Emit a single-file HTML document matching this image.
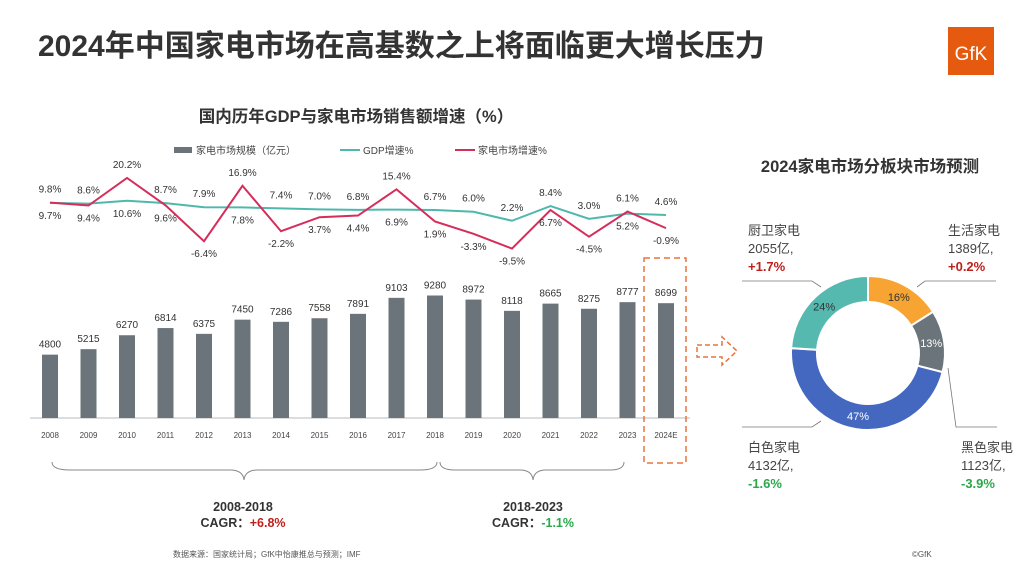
<!DOCTYPE html>
<html><head><meta charset="utf-8">
<style>
body{margin:0;width:1024px;height:576px;background:#fff;overflow:hidden;font-family:"Liberation Sans","Noto Sans CJK SC",sans-serif;}
svg{position:absolute;left:0;top:0}
</style></head>
<body>
<svg id="c" width="1024" height="576">
<text x="38" y="56" font-size="30" font-weight="bold" fill="#333">2024年中国家电市场在高基数之上将面临更大增长压力</text>
<g>
<rect x="948" y="27" width="46" height="48" fill="#e55a0f"/>
<text x="971" y="60" font-size="19" fill="#fff" text-anchor="middle">GfK</text>
</g>
<text x="356" y="122" font-size="16.5" font-weight="bold" fill="#333" text-anchor="middle">国内历年GDP与家电市场销售额增速（%）</text>
<g>
<rect x="174" y="147" width="18" height="6" fill="#6b747a"/>
<text x="196" y="154" font-size="10" fill="#444">家电市场规模（亿元）</text>
<line x1="340" y1="150" x2="360" y2="150" stroke="#4fb8ad" stroke-width="2"/>
<text x="363" y="154" font-size="10" fill="#444">GDP增速%</text>
<line x1="455" y1="150" x2="475" y2="150" stroke="#d62d5a" stroke-width="2"/>
<text x="478" y="154" font-size="10" fill="#444">家电市场增速%</text>
</g>
<line x1="30" y1="418" x2="690" y2="418" stroke="#bbb" stroke-width="1"/>
<g id="bars"></g><g id="lines"></g><g id="labels"></g>
<rect x="644" y="258" width="42" height="205" fill="none" stroke="#e8743b" stroke-width="1.5" stroke-dasharray="6,4"/>
<path d="M697,345 H722 V337 L737,351 L722,365 V357 H697 Z" fill="none" stroke="#e8743b" stroke-width="1.5" stroke-dasharray="5,3"/>
<path d="M52,462 Q52,470 70,470 H230 Q243,470 244,480 Q245,470 258,470 H420 Q437,470 437,462" fill="none" stroke="#888"/>
<path d="M440,462 Q440,470 455,470 H520 Q532,470 533,480 Q534,470 546,470 H610 Q624,470 624,462" fill="none" stroke="#888"/>
<text x="243" y="511" font-size="12.5" font-weight="bold" fill="#333" text-anchor="middle">2008-2018</text>
<text x="243" y="527" font-size="12.5" font-weight="bold" fill="#333" text-anchor="middle">CAGR：<tspan fill="#c0201a">+6.8%</tspan></text>
<text x="533" y="511" font-size="12.5" font-weight="bold" fill="#333" text-anchor="middle">2018-2023</text>
<text x="533" y="527" font-size="12.5" font-weight="bold" fill="#333" text-anchor="middle">CAGR：<tspan fill="#2aa84a">-1.1%</tspan></text>
<text x="173" y="557" font-size="8" fill="#555">数据来源：国家统计局；GfK中怡康推总与预测；IMF</text>
<text x="912" y="557" font-size="8" fill="#555">©GfK</text>
<text x="870" y="172" font-size="16.5" font-weight="bold" fill="#333" text-anchor="middle">2024家电市场分板块市场预测</text>
<g id="donut"></g>
<g stroke="#777" fill="none" stroke-width="0.8">
<path d="M821,287 L812,281 H742"/><path d="M917,287 L925,281 H996"/><path d="M948,368 L956,427 H997"/><path d="M821,421 L812,427 H742"/>
</g>
<g font-size="13" fill="#444">
<text x="748" y="235">厨卫家电<tspan x="748" dy="18">2055亿,</tspan><tspan x="748" dy="18" font-weight="bold" fill="#c0201a">+1.7%</tspan></text>
<text x="948" y="235">生活家电<tspan x="948" dy="18">1389亿,</tspan><tspan x="948" dy="18" font-weight="bold" fill="#c0201a">+0.2%</tspan></text>
<text x="748" y="452">白色家电<tspan x="748" dy="18">4132亿,</tspan><tspan x="748" dy="18" font-weight="bold" fill="#2aa84a">-1.6%</tspan></text>
<text x="961" y="452">黑色家电<tspan x="961" dy="18">1123亿,</tspan><tspan x="961" dy="18" font-weight="bold" fill="#2aa84a">-3.9%</tspan></text>
</g>
</svg>
<script>
const years=["2008","2009","2010","2011","2012","2013","2014","2015","2016","2017","2018","2019","2020","2021","2022","2023","2024E"];
const marketSize=[4800,5215,6270,6814,6375,7450,7286,7558,7891,9103,9280,8972,8118,8665,8275,8777,8699];
const gdpGrowth=[9.7,9.4,10.6,9.6,7.9,7.8,7.4,7.0,6.8,6.9,6.7,6.0,2.2,8.4,3.0,5.2,4.6];
const marketGrowth=[9.8,8.6,20.2,8.7,-6.4,16.9,-2.2,3.7,4.4,15.4,1.9,-3.3,-9.5,6.7,-4.5,6.1,-0.9];
const segNames=["生活家电","黑色家电","白色家电","厨卫家电"];
const segShares=[16,13,47,24];
const segColors=["#f8a432","#6b747a","#4468c0","#55b9b0"];
const NS="http://www.w3.org/2000/svg";
const xPos=i=>50+i*38.5;
const yBar=v=>418-v*0.0132;
const yPct=v=>226-v*2.38;
function mk(t,a,p){const e=document.createElementNS(NS,t);for(const k in a)e.setAttribute(k,a[k]);p.appendChild(e);return e;}
const bars=document.getElementById('bars'),lines=document.getElementById('lines'),labels=document.getElementById('labels');
years.forEach((y,i)=>{
  const r=mk('rect',{x:xPos(i)-8,y:yBar(marketSize[i]),width:16,height:418-yBar(marketSize[i]),fill:'#6b747a'},bars);
  
  
  const t=mk('text',{x:xPos(i),y:yBar(marketSize[i])-7,'font-size':10,fill:'#333','text-anchor':'middle'},labels);
  t.textContent=marketSize[i];
  
  
  const xl=mk('text',{x:xPos(i),y:438,'font-size':8,fill:'#444','text-anchor':'middle'},labels);
  xl.textContent=y;
  
  
  const ya=yPct(marketGrowth[i]),yg=yPct(gdpGrowth[i]);
  const upA=marketGrowth[i]>=gdpGrowth[i]-1 && marketGrowth[i]-gdpGrowth[i]<0.95 || marketGrowth[i]-gdpGrowth[i]>3;
  const top=Math.min(ya,yg)-10,bot=Math.max(ya,yg)+16;
  const la=mk('text',{x:xPos(i),y:upA?top:bot,'font-size':10,fill:'#333','text-anchor':'middle'},labels);
  la.textContent=marketGrowth[i].toFixed(1)+'%';
  
  
  const lg=mk('text',{x:xPos(i),y:upA?bot:top,'font-size':10,fill:'#333','text-anchor':'middle'},labels);
  lg.textContent=gdpGrowth[i].toFixed(1)+'%';
  
  
});
const gl=mk('polyline',{points:gdpGrowth.map((v,i)=>xPos(i)+','+yPct(v)).join(' '),fill:'none',stroke:'#4fb8ad','stroke-width':2},lines);


const ml=mk('polyline',{points:marketGrowth.map((v,i)=>xPos(i)+','+yPct(v)).join(' '),fill:'none',stroke:'#d62d5a','stroke-width':2},lines);


const donut=document.getElementById('donut');
const cx=868,cy=353,R=77,r0=51;
const total=segShares.reduce((a,b)=>a+b,0);
let a0=0;
segShares.forEach((s,i)=>{
  const a1=a0+s/total*Math.PI*2;
  const p=(a,rr)=>[cx+rr*Math.sin(a),cy-rr*Math.cos(a)];
  const [x1,y1]=p(a0,R),[x2,y2]=p(a1,R),[x3,y3]=p(a1,r0),[x4,y4]=p(a0,r0);
  const lg=(a1-a0)>Math.PI?1:0;
  const path=mk('path',{d:`M${x1},${y1} A${R},${R} 0 ${lg} 1 ${x2},${y2} L${x3},${y3} A${r0},${r0} 0 ${lg} 0 ${x4},${y4} Z`,fill:segColors[i],stroke:'#fff','stroke-width':2},donut);
  
  
  const am=(a0+a1)/2,[lx,ly]=p(am,(R+r0)/2);
  const t=mk('text',{x:lx,y:ly+4,'font-size':11,fill:(i===0||i===3)?'#333':'#fff','text-anchor':'middle'},donut);
  t.textContent=s+'%';
  
  
  a0=a1;
});
</script>
</body></html>
